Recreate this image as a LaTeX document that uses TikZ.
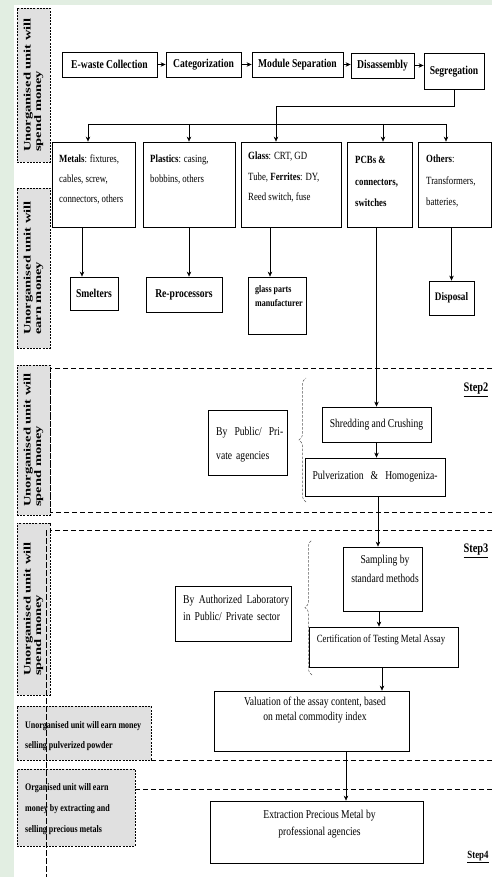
\documentclass[tikz,border=0pt]{standalone}
\usepackage{fontspec}
\setmainfont{Liberation Serif}[FakeStretch=0.8]
\newfontfamily\vlabfont{Liberation Serif}[FakeStretch=1.45]
\usetikzlibrary{arrows.meta,decorations.pathreplacing}
\definecolor{bggreen}{RGB}{226,238,226}
\definecolor{lgray}{RGB}{224,224,224}
\newcommand{\fsz}[2]{\fontsize{#1}{#2}\selectfont}
\begin{document}
\begin{tikzpicture}[x=1pt,y=-1pt,
  box/.style={draw, line width=0.8pt, fill=white, inner sep=0pt},
  txt/.style={inner sep=0pt, align=left, anchor=north west},
  arr/.style={-{Stealth[length=5pt,width=4.5pt]}, line width=0.6pt},
  ln/.style={line width=0.6pt},
  sepline/.style={line width=0.8pt, dash pattern=on 5pt off 3pt},
  graylab/.style={draw, fill=lgray, line width=0.5pt, dash pattern=on 2pt off 1.2pt, inner sep=0pt},
  vlab/.style={rotate=90, align=left, inner sep=0pt, font=\vlabfont\bfseries\fsz{10}{10.5}},
  glab/.style={inner sep=0pt, align=left, anchor=north west, font=\bfseries\fsz{10}{20}},
  steplbl/.style={inner sep=0pt, font=\bfseries\fsz{13}{14}},
  bracestyle/.style={decorate, decoration={brace, amplitude=7pt}, gray!70!black, line width=0.5pt, dash pattern=on 2.5pt off 1.5pt}
]
\useasboundingbox (0,0) rectangle (492,877);
\fill[white] (0,0) rectangle (492,877);
\fill[bggreen] (0,0) rectangle (14,877);
\fill[bggreen] (14,0) rectangle (492,5);

% ---------- separator lines ----------
\draw[sepline] (492,368) -- (50,368) -- (50,512) -- (492,512);
\draw[sepline] (492,530) -- (46,530);
\draw[sepline] (151,760) -- (492,760);
\draw[sepline] (135,789) -- (492,789);

% ---------- left gray labels ----------
\node[graylab, minimum width=33pt, minimum height=154pt] (g1) at (33.5,85) {};
\node[vlab] (g1t) at (g1.center) {Unorganised unit will\\spend money};
\node[graylab, minimum width=33pt, minimum height=160pt] (g2) at (33.5,268) {};
\node[vlab] (g2t) at (g2.center) {Unorganised unit will\\earn money};
\node[graylab, minimum width=33pt, minimum height=150pt] (g3) at (33.5,440) {};
\node[vlab] (g3t) at (g3.center) {Unorganised unit will\\spend money};
\node[graylab, minimum width=33pt, minimum height=172pt] (g4) at (33.5,609) {};
\node[vlab] (g4t) at (g4.center) {Unorganised unit will\\spend money};
\node[graylab, minimum width=134pt, minimum height=54pt] (g5) at (84,733) {};
\node[glab] (g5t) at (25,721) {Unorganised unit will earn money\\selling pulverized powder};
\node[graylab, minimum width=118pt, minimum height=77pt] (g6) at (76,807.5) {};
\node[glab, font=\bfseries\fsz{10}{21}] (g6t) at (25,783) {Organised unit will earn\\money by extracting and\\selling precious metals};
\draw[line width=0.5pt, dash pattern=on 6pt off 2pt] (46,530) -- (46,877);

% ---------- top row ----------
\node[box, minimum width=95pt, minimum height=25pt, font=\bfseries\fsz{12}{14}] (ew) at (109.5,64.5) {E-waste Collection};
\node[box, minimum width=75pt, minimum height=25pt, font=\bfseries\fsz{12}{14}] (cat) at (203.5,64.5) {Categorization};
\node[box, minimum width=91pt, minimum height=25pt, font=\bfseries\fsz{12}{14}] (mod) at (297.5,64.5) {Module Separation};
\node[box, minimum width=63pt, minimum height=25pt, font=\bfseries\fsz{12}{14}] (dis) at (382.5,65.5) {Disassembly};
\node[box, minimum width=60pt, minimum height=36pt, font=\bfseries\fsz{12}{14}] (seg) at (454,71.5) {Segregation};
\draw[arr] (ew.east) -- (ew.east -| cat.west);
\draw[arr] (cat.east) -- (cat.east -| mod.west);
\draw[arr] (mod.east) -- (mod.east -| dis.west);
\draw[arr] (dis.east) -- (dis.east -| seg.west);

% ---------- branch ----------
\coordinate (j2) at (276,106);
\coordinate (bc) at (276,124);
\coordinate (b1) at (88,124);
\coordinate (b2) at (189,124);
\coordinate (b3) at (276,124);
\coordinate (b4) at (383,124);
\coordinate (b5) at (446,124);
\draw[ln] (seg.south) |- (j2) -- (bc);
\draw[ln] (b1) -- (b5);

% ---------- second row ----------
\node[box, minimum width=83pt, minimum height=85pt] (metals) at (93.5,184.5) {};
\node[box, minimum width=92pt, minimum height=85pt] (plastics) at (189,184.5) {};
\node[box, minimum width=100pt, minimum height=85pt] (glass) at (291,184.5) {};
\node[box, minimum width=65pt, minimum height=85pt] (pcbs) at (379.5,184.5) {};
\node[box, minimum width=73pt, minimum height=85pt] (others) at (454.5,184.5) {};
\node[txt, font=\fsz{11}{20}] (metalsT) at (59,155) {\textbf{Metals}: fixtures,\\cables, screw,\\connectors, others};
\node[txt, font=\fsz{11}{20}] (plasticsT) at (150,155) {\textbf{Plastics}: casing,\\bobbins, others};
\node[txt, font=\fsz{11}{20.5}] (glassT) at (248,152) {\textbf{Glass}: CRT, GD\\Tube, \textbf{Ferrites}: DY,\\Reed switch, fuse};
\node[txt, font=\bfseries\fsz{11}{21.5}] (pcbsT) at (355,156) {PCBs \&\\connectors,\\switches};
\node[txt, font=\fsz{11}{21.5}] (othersT) at (426,155) {\textbf{Others}:\\Transformers,\\batteries,};
\draw[arr] (b1) -- (b1 |- metals.north);
\draw[arr] (b2) -- (b2 |- plastics.north);
\draw[arr] (b3) -- (b3 |- glass.north);
\draw[arr] (b4) -- (b4 |- pcbs.north);
\draw[arr] (b5) -- (b5 |- others.north);

% ---------- third row ----------
\node[box, minimum width=48pt, minimum height=33pt, font=\bfseries\fsz{12}{14}] (smelt) at (94,293.5) {Smelters};
\node[box, minimum width=76pt, minimum height=35pt, font=\bfseries\fsz{12}{14}] (repro) at (184,294.5) {Re-processors};
\node[box, minimum width=58pt, minimum height=57pt] (gman) at (277,305.5) {};
\node[txt, font=\bfseries\fsz{10}{14}] (gmanT) at (255,285) {glass parts\\manufacturer};
\node[box, minimum width=45pt, minimum height=34pt, font=\bfseries\fsz{11.5}{14}] (disp) at (451.5,298) {Disposal};
\draw[arr] ([xshift=-11.5pt]metals.south) -- ([xshift=-12pt]smelt.north);
\draw[arr] (plastics.south) -- (plastics.south |- repro.north);
\draw[arr] ([xshift=-21pt]glass.south) -- ([xshift=-7pt]gman.north);
\draw[arr] (disp.north |- others.south) -- (disp.north);

% ---------- step 2 ----------
\node[box, minimum width=79pt, minimum height=65pt] (pub) at (247.5,442.5) {};
\node[txt, text width=67pt, font=\fsz{12}{24}] (pubT) at (216,427) {By\hfill Public/\hfill Pri-\\vate agencies};
\node[box, minimum width=109pt, minimum height=35pt, font=\fsz{12}{14}] (shred) at (376.5,424.5) {Shredding and Crushing};
\node[box, minimum width=140pt, minimum height=38pt] (pulv) at (375,477) {};
\node[inner sep=0pt, font=\fsz{12}{14}] (pulvT) at (375,477) {\makebox[125pt][s]{Pulverization\hfill\&\hfill Homogeniza-}};
\draw[bracestyle] (306,502) -- (306,378);
\node[steplbl] (s2) at (476,390) {\underline{Step2}};
\draw[arr] (shred.north |- pcbs.south) -- (shred.north);
\draw[arr] (shred.south) -- (shred.south |- pulv.north);

% ---------- step 3 ----------
\node[box, minimum width=79pt, minimum height=64pt] (samp) at (382.5,579) {};
\node[inner sep=0pt, anchor=north, align=center, font=\fsz{12}{19}] (sampT) at (385,555) {Sampling by\\standard methods};
\node[box, minimum width=149pt, minimum height=40pt] (cert) at (383.5,647) {};
\node[inner sep=0pt, font=\fsz{11}{14}] (certT) at (381,640) {Certification of Testing Metal Assay};
\node[box, minimum width=116pt, minimum height=55pt] (auth) at (233,613.5) {};
\node[txt, text width=106pt, font=\fsz{12}{17}] (authT) at (183,595) {By\hfill Authorized\hfill Laboratory\\in Public/ Private sector};
\draw[bracestyle] (312,675) -- (312,540);
\node[steplbl] (s3) at (476,551) {\underline{Step3}};
\draw[arr] ([xshift=3pt]pulv.south) -- ([xshift=-4.5pt]samp.north);
\draw[arr] ([xshift=-3.5pt]samp.south) -- ([xshift=-3.5pt]samp.south |- cert.north);

\node[box, minimum width=195pt, minimum height=60pt] (val) at (311.5,721) {};
\node[inner sep=0pt, anchor=north, align=center, font=\fsz{12}{15}] (valT) at (315,697) {Valuation of the assay content, based\\on metal commodity index};
\draw[arr] ([xshift=-1.5pt]cert.south) -- ([xshift=-1.5pt]cert.south |- val.north);

% ---------- step 4 ----------
\node[box, minimum width=213pt, minimum height=62pt] (extr) at (316.5,832) {};
\node[inner sep=0pt, anchor=north, align=center, font=\fsz{12}{17}] (extrT) at (319.5,810) {Extraction Precious Metal by\\professional agencies};
\draw[arr] ([xshift=34.5pt]val.south) -- ([xshift=29.5pt]extr.north);
\node[steplbl, font=\bfseries\fsz{11}{12}] (s4) at (478,857) {\underline{Step4}};
\end{tikzpicture}
\end{document}
